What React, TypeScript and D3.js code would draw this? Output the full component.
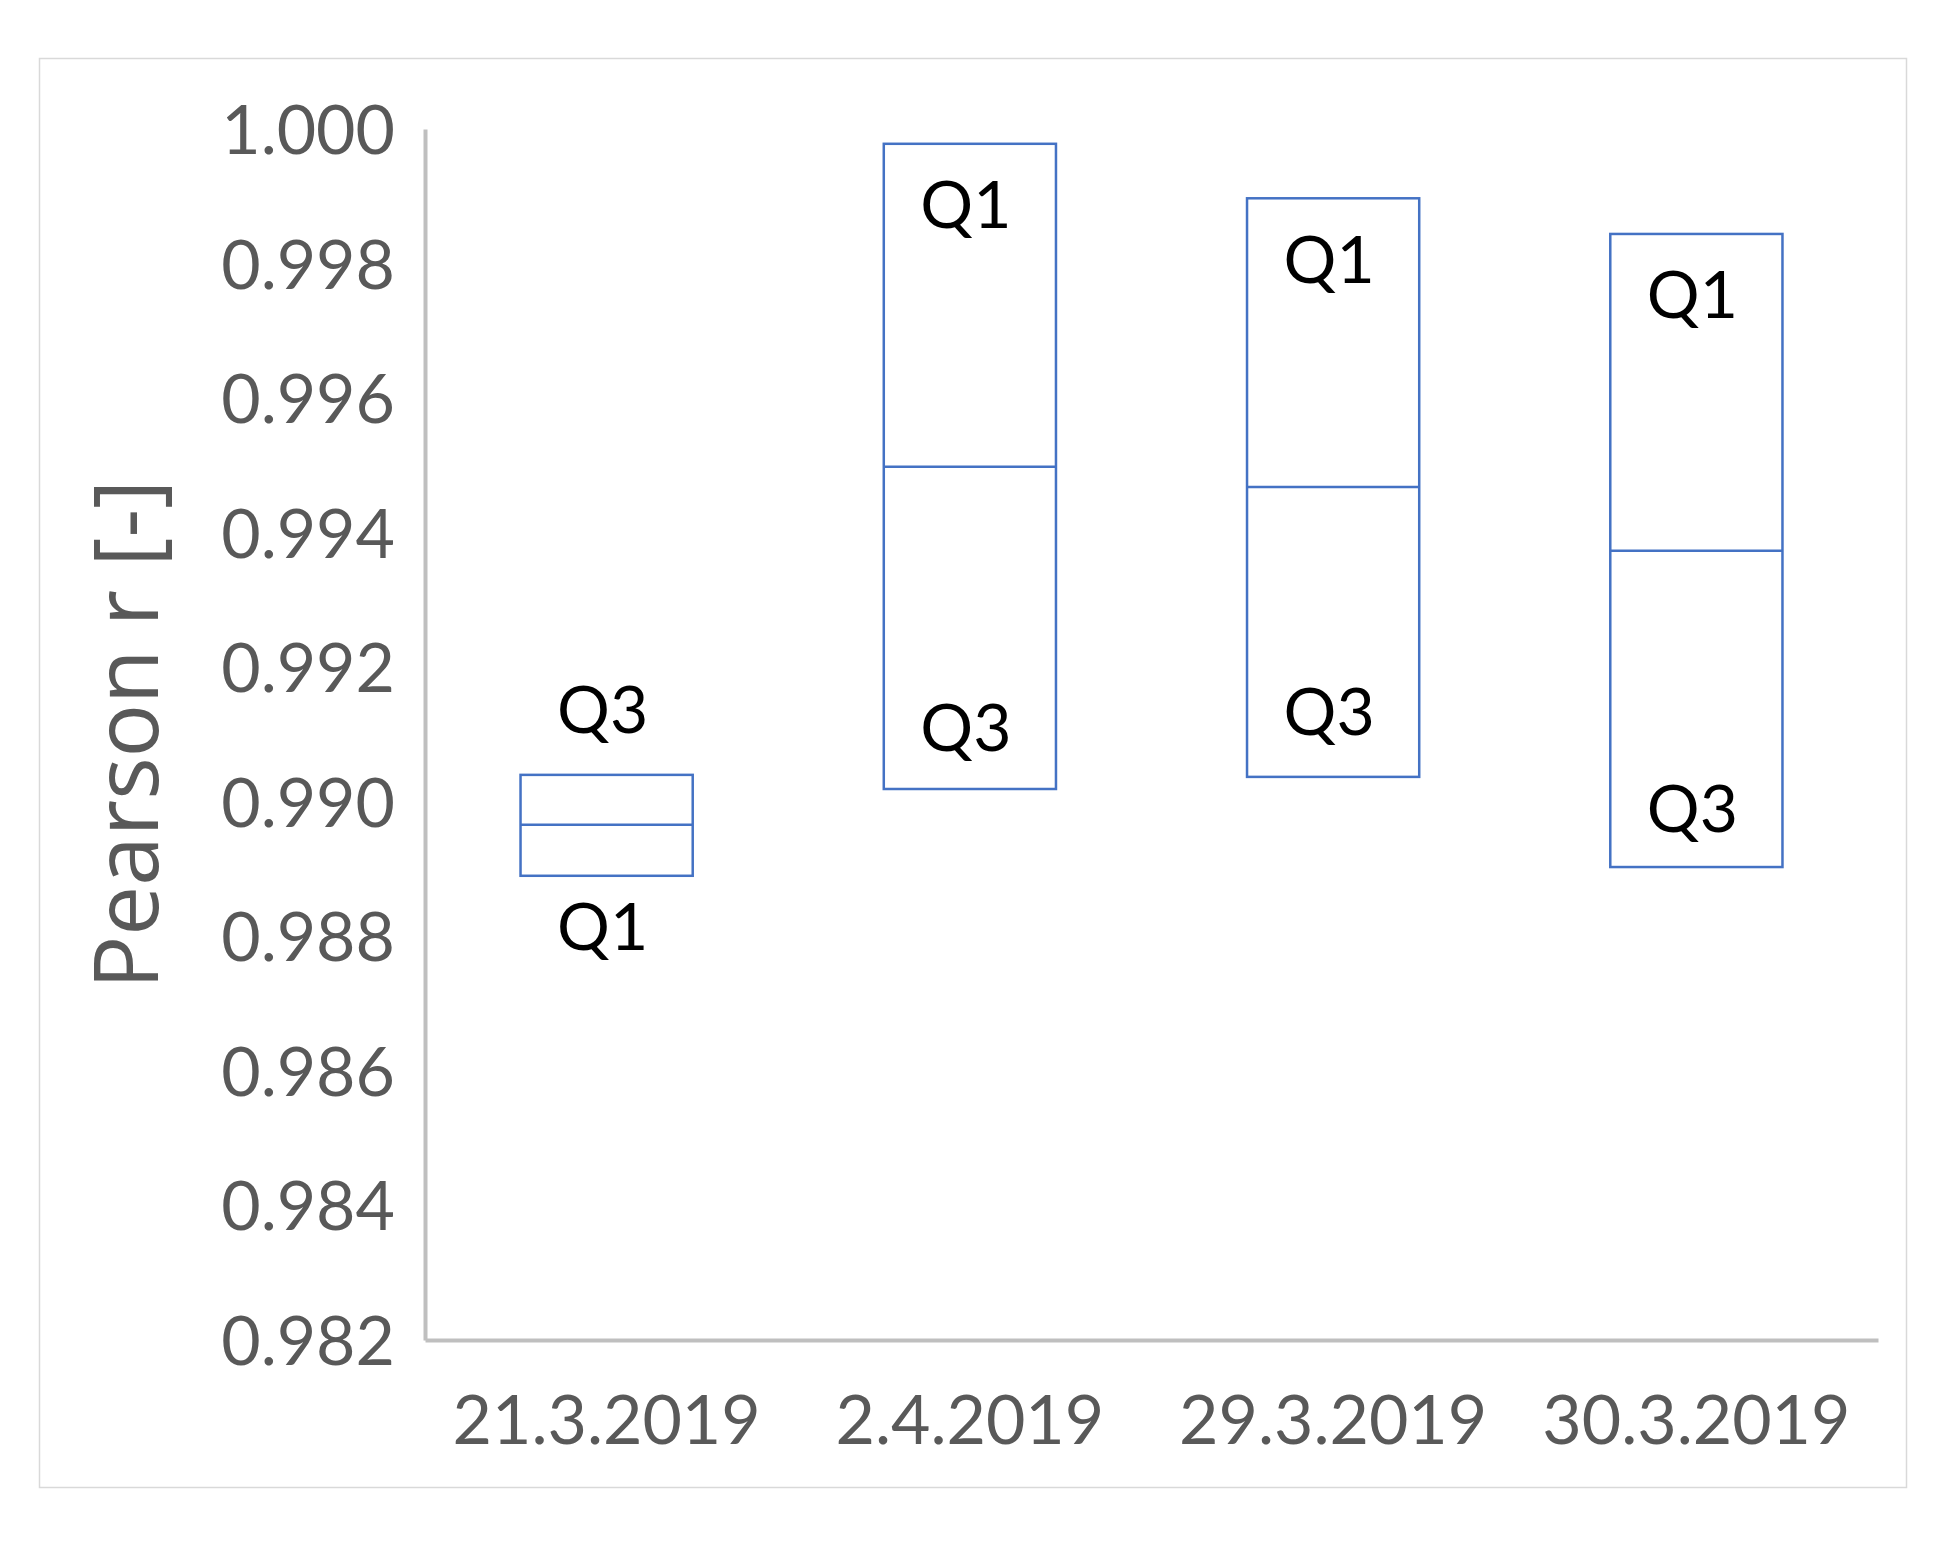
import React, { useRef, useEffect } from 'react';
import * as d3 from 'd3';

// categories and box values (Pearson r)
const dates = ['21.3.2019', '2.4.2019', '29.3.2019', '30.3.2019'];
const boxTop = [0.9904, 0.99978, 0.99897, 0.99844];
const boxMid = [0.98966, 0.99498, 0.99468, 0.99373];
const boxBottom = [0.9889, 0.99019, 0.99037, 0.98903];

// quartile labels, placed at a value on the y axis (text baseline)
const labelText = ['Q3', 'Q1', 'Q1', 'Q3', 'Q1', 'Q3', 'Q1', 'Q3'];
const labelDate = ['21.3.2019', '21.3.2019', '2.4.2019', '2.4.2019', '29.3.2019', '29.3.2019', '30.3.2019', '30.3.2019'];
const labelValue = [0.99102, 0.9878, 0.99853, 0.99076, 0.99771, 0.99099, 0.99719, 0.98955];

const yTicks = [1.0, 0.998, 0.996, 0.994, 0.992, 0.99, 0.988, 0.986, 0.984, 0.982];

const App = () => {
  const svgRef = useRef<SVGSVGElement>(null);

  useEffect(() => {
    const width = 1957;
    const height = 1542;
    const plot = { left: 425, right: 1878, top: 129, bottom: 1340 };

    const svg = d3.select(svgRef.current).attr('width', width).attr('height', height);
    svg.selectAll('*').remove();

    const x = d3
      .scaleBand()
      .domain(dates)
      .range([plot.left, plot.right])
      .paddingInner(0.526)
      .paddingOuter(0.263);

    const y = d3.scaleLinear().domain([0.982, 1.0]).range([plot.bottom, plot.top]);

    // chart frame
    svg
      .append('rect')
      .attr('x', 39.5)
      .attr('y', 58.5)
      .attr('width', 1867)
      .attr('height', 1429)
      .attr('fill', '#fff')
      .attr('stroke', '#d9d9d9')
      .attr('stroke-width', 1.5);

    // y axis
    const yAxis = svg.append('g').attr('transform', `translate(${plot.left},0)`);
    yAxis.call(
      d3
        .axisLeft(y)
        .tickValues(yTicks)
        .tickSize(0)
        .tickPadding(30)
        .tickFormat(d3.format('.3f'))
    );
    yAxis.select('.domain').attr('stroke', '#bfbfbf').attr('stroke-width', 4);
    yAxis
      .selectAll('text')
      .attr('fill', '#595959')
      .attr('font-family', 'Lato')
      .attr('font-size', 68)
      .attr('dy', '0.36em');

    // x axis
    const xAxis = svg.append('g').attr('transform', `translate(0,${plot.bottom})`);
    xAxis.call(d3.axisBottom(x).tickSize(0).tickPadding(104));
    xAxis.select('.domain').attr('stroke', '#bfbfbf').attr('stroke-width', 4);
    xAxis
      .selectAll('text')
      .attr('fill', '#595959')
      .attr('font-family', 'Lato')
      .attr('font-size', 68)
      .attr('dy', 0);

    // y axis title
    svg
      .append('text')
      .attr('transform', `translate(158,${(plot.top + plot.bottom) / 2}) rotate(-90)`)
      .attr('text-anchor', 'middle')
      .attr('fill', '#595959')
      .attr('font-family', 'Open Sans')
      .attr('font-size', 89)
      .text('Pearson r [-]');

    // boxes
    const boxGroup = svg.append('g');
    dates.forEach((d, i) => {
      const x0 = x(d) as number;
      boxGroup
        .append('rect')
        .attr('x', x0)
        .attr('y', y(boxTop[i]))
        .attr('width', x.bandwidth())
        .attr('height', y(boxBottom[i]) - y(boxTop[i]))
        .attr('fill', 'none')
        .attr('stroke', '#4472c4')
        .attr('stroke-width', 2.5);
      boxGroup
        .append('line')
        .attr('x1', x0)
        .attr('x2', x0 + x.bandwidth())
        .attr('y1', y(boxMid[i]))
        .attr('y2', y(boxMid[i]))
        .attr('stroke', '#4472c4')
        .attr('stroke-width', 2.5);
    });

    // Q1 / Q3 labels
    svg
      .append('g')
      .selectAll('text')
      .data(labelText)
      .enter()
      .append('text')
      .attr('x', (d, i) => (x(labelDate[i]) as number) + x.bandwidth() / 2 - 4)
      .attr('y', (d, i) => y(labelValue[i]))
      .attr('text-anchor', 'middle')
      .attr('fill', '#000')
      .attr('font-family', 'Lato')
      .attr('font-size', 66)
      .text((d) => d);
  }, []);

  return (
    <div style={{ position: 'absolute', left: 0, top: 0 }}>
      <svg ref={svgRef} style={{ display: 'block' }} />
    </div>
  );
};

export default App;
